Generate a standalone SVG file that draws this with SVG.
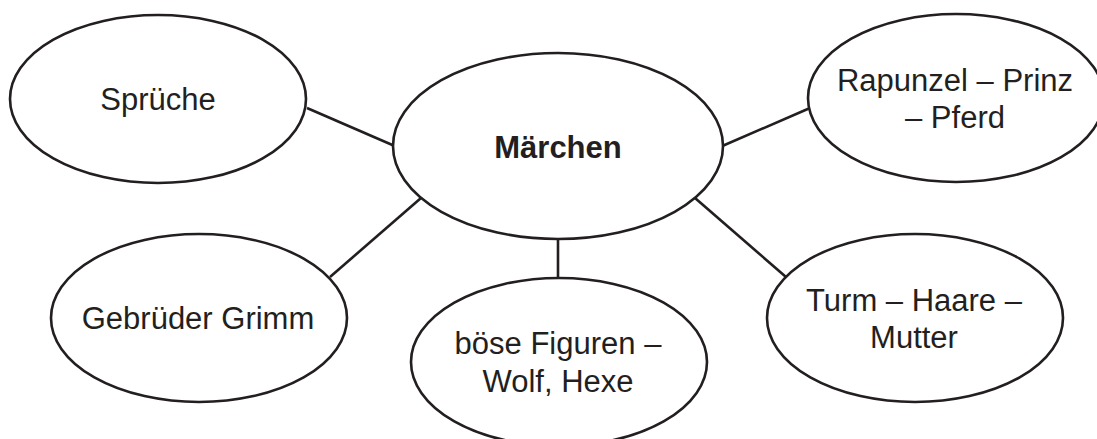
<svg xmlns="http://www.w3.org/2000/svg" width="1097" height="439" viewBox="0 0 1097 439">
<style>
.n{fill:#fff;stroke:#231f20;stroke-width:2.6}
.t{font-family:"Liberation Sans",Arial,sans-serif;font-size:31px;fill:#231f20;text-anchor:middle}
.b{font-weight:bold}
.c line{stroke:#231f20;stroke-width:2.6}
</style>
<rect width="1097" height="439" fill="#fff"/>
<g class="c" id="connectors">
<line x1="307" y1="108" x2="397" y2="147"/>
<line x1="720" y1="147" x2="810" y2="108"/>
<line x1="421" y1="198" x2="330" y2="277"/>
<line x1="558" y1="237" x2="558" y2="279"/>
<line x1="695" y1="198" x2="786" y2="277"/>
</g>
<g id="maerchen"><ellipse class="n" cx="558" cy="146" rx="165" ry="93"/><text class="t b" x="558" y="158">Märchen</text></g>
<g id="sprueche"><ellipse class="n" cx="158" cy="99" rx="148" ry="84"/><text class="t" x="158" y="110">Sprüche</text></g>
<g id="rapunzel"><ellipse class="n" cx="956" cy="98" rx="148" ry="84"/><text class="t" x="955" y="91">Rapunzel – Prinz</text><text class="t" x="955" y="128">– Pferd</text></g>
<g id="grimm"><ellipse class="n" cx="199" cy="318" rx="148" ry="84"/><text class="t" x="198" y="329">Gebrüder Grimm</text></g>
<g id="boese"><ellipse class="n" cx="559" cy="362" rx="148" ry="84"/><text class="t" x="558" y="354">böse Figuren –</text><text class="t" x="558" y="392">Wolf, Hexe</text></g>
<g id="turm"><ellipse class="n" cx="915" cy="318" rx="148" ry="84"/><text class="t" x="914" y="311">Turm – Haare –</text><text class="t" x="914" y="348">Mutter</text></g>
</svg>
